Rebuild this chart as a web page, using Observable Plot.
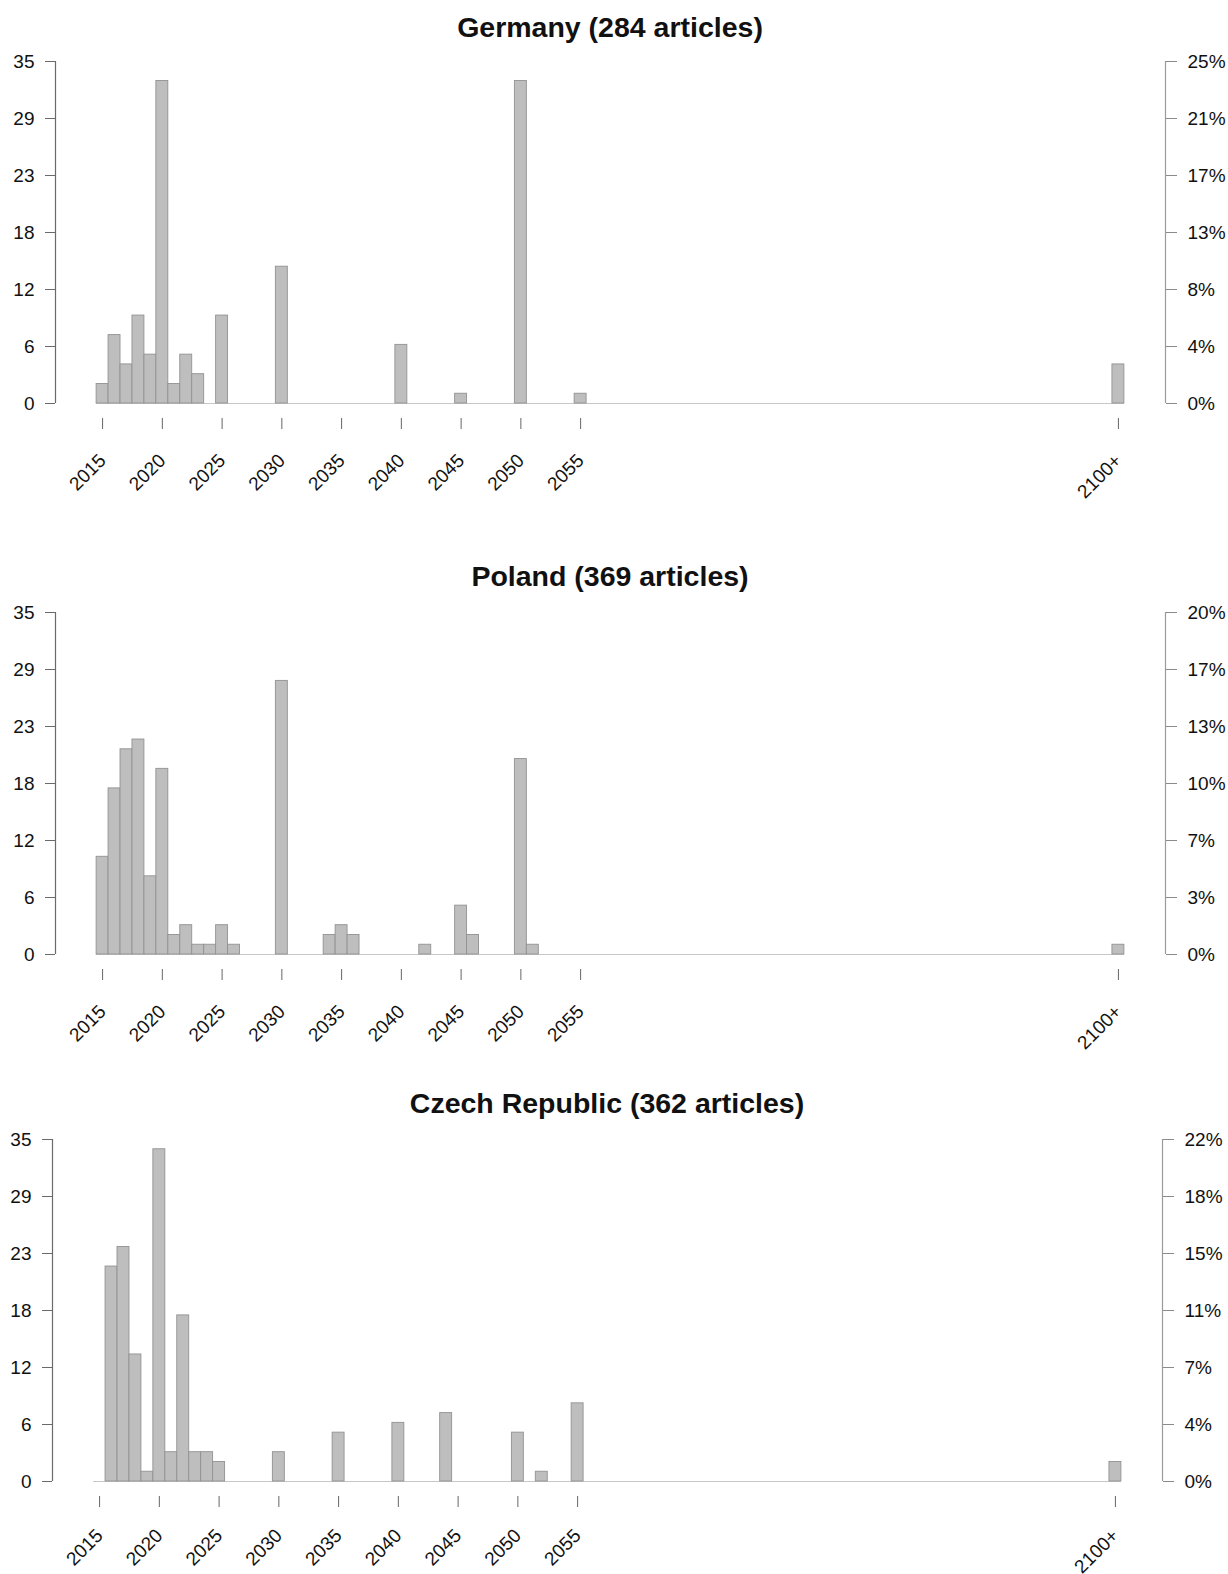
<!DOCTYPE html>
<html><head><meta charset="utf-8">
<script src="https://cdn.jsdelivr.net/npm/d3@7"></script>
<script src="https://cdn.jsdelivr.net/npm/@observablehq/plot@0.6"></script>
<style>
html,body{margin:0;padding:0;background:#fff;overflow:hidden;width:1228px;height:1574px;position:relative}
.title{position:absolute;font-family:"Liberation Sans",Arial,sans-serif;font-weight:bold;font-size:28.5px;line-height:32px;text-align:center;color:#111;white-space:nowrap}
.chart{position:absolute;left:0}
</style></head><body>
<script>
// ---- data (values read on the left-axis scale) ----
const germanyYears  = [2015,2016,2017,2018,2019,2020,2021,2022,2023,2025,2030,2040,2045,2050,2055,2100];
const germanyValues = [2,7,4,9,5,33,2,5,3,9,14,6,1,33,1,4];

const polandYears  = [2015,2016,2017,2018,2019,2020,2021,2022,2023,2024,2025,2026,2030,2034,2035,2036,2042,2045,2046,2050,2051,2100];
const polandValues = [10,17,21,22,8,19,2,3,1,1,3,1,28,2,3,2,1,5,2,20,1,1];

const czechYears  = [2016,2017,2018,2019,2020,2021,2022,2023,2024,2025,2030,2035,2040,2044,2050,2052,2055,2100];
const czechValues = [22,24,13,1,34,3,17,3,3,2,3,5,6,7,5,1,8,2];

const xTickValues = [2015,2020,2025,2030,2035,2040,2045,2050,2055,2100];
const xTickLabels = ["2015","2020","2025","2030","2035","2040","2045","2050","2055","2100+"];
const yTickLabels = ["0","6","12","18","23","29","35"];
const germanyPctLabels = ["0%","4%","8%","13%","17%","21%","25%"];
const polandPctLabels  = ["0%","3%","7%","10%","13%","17%","20%"];
const czechPctLabels   = ["0%","4%","7%","11%","15%","18%","22%"];
const titles = ["Germany (284 articles)","Poland (369 articles)","Czech Republic (362 articles)"];

// ---- layout ----
const yMax = 35;
const yTickValues = d3.range(7).map(i => i * yMax / 6);
const binLo = 2014.5, binHi = 2100.5;
const pad = (binHi - binLo) * 0.04;
const xDomain = [binLo - pad, binHi + pad];
const xLabel = new Map(xTickValues.map((v, i) => [v, xTickLabels[i]]));

const panels = [
  {title: titles[0], years: germanyYears, values: germanyValues, pct: germanyPctLabels, svgTop: 50,     titleTop: 11,     ml: 55, mr: 63, xpad: 28},
  {title: titles[1], years: polandYears,  values: polandValues,  pct: polandPctLabels,  svgTop: 600.5,  titleTop: 560,    ml: 55, mr: 63, xpad: 28},
  {title: titles[2], years: czechYears,   values: czechValues,   pct: czechPctLabels,   svgTop: 1127.6, titleTop: 1086.5, ml: 52, mr: 66, xpad: 25}
];

const W = 1228, MT = 11, PH = 342, MB = 110, FS = 19;

for (const p of panels) {
  const data = p.years.map((y, i) => ({year: y, value: p.values[i]}));
  const t = document.createElement("div");
  t.className = "title";
  t.textContent = p.title;
  t.style.left = p.ml + "px";
  t.style.width = (W - p.ml - p.mr) + "px";
  t.style.top = p.titleTop + "px";
  document.body.appendChild(t);

  const chart = Plot.plot({
    width: W, height: MT + PH + MB,
    marginTop: MT, marginBottom: MB, marginLeft: p.ml, marginRight: p.mr,
    x: {domain: xDomain, label: null},
    y: {domain: [0, yMax], label: null},
    style: {fontFamily: "'Liberation Sans', Arial, sans-serif", fontSize: FS + "px", color: "#111", background: "#fff", overflow: "visible"},
    marks: [
      Plot.ruleY([0], {x1: binLo, x2: binHi, stroke: "#c4c8c8", strokeWidth: 1.2}),
      Plot.rectY(data, {x1: d => d.year - 0.5, x2: d => d.year + 0.5, y: "value", fill: "#bebebe", stroke: "#929292", strokeWidth: 0.9}),
      Plot.ruleX([xDomain[0]], {y1: 0, y2: yMax, stroke: "#6a6a6a", strokeWidth: 1.2}),
      Plot.ruleX([xDomain[1]], {y1: 0, y2: yMax, stroke: "#9a9a9a", strokeWidth: 1.2}),
      Plot.axisY({anchor: "left", ticks: yTickValues, tickFormat: d => yTickLabels[Math.round(d * 6 / yMax)], tickSize: 10, tickPadding: 11, stroke: "#6a6a6a", fill: "#111", fontSize: FS, label: null}),
      Plot.axisY({anchor: "right", ticks: yTickValues, tickFormat: d => p.pct[Math.round(d * 6 / yMax)], tickSize: 11, tickPadding: 11, stroke: "#8a8a8a", fill: "#111", fontSize: FS, label: null}),
      Plot.axisX({anchor: "bottom", ticks: xTickValues, tickFormat: d => xLabel.get(d), tickSize: 11, tickPadding: p.xpad, dy: 15, tickRotate: -45, stroke: "#666", fill: "#111", fontSize: FS, label: null})
    ]
  });
  chart.classList.add("chart");
  chart.style.top = p.svgTop + "px";
  document.body.appendChild(chart);
}
</script>
</body></html>
